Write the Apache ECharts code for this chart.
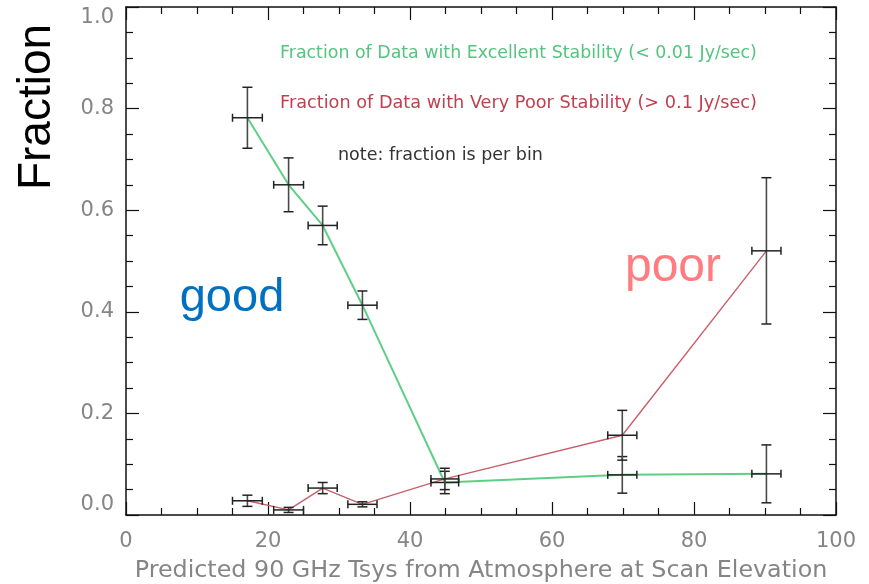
<!DOCTYPE html>
<html>
<head>
<meta charset="utf-8">
<script src="https://cdn.jsdelivr.net/npm/echarts@6/dist/echarts.min.js"></script>
<style>
  html, body { margin: 0; padding: 0; background: #fff; }
  #chart { width: 869px; height: 584px; }
</style>
</head>
<body>
<div id="chart"></div>
<script>
// Bin centres (predicted 90 GHz Tsys) and half-widths
const tsysBins = [17.1, 22.9, 27.7, 33.3, 44.9, 69.9, 90.2];
const tsysHalfWidth = [2.1, 2.1, 2.05, 2.05, 1.95, 2.05, 2.05];

// Fraction of data with excellent stability (< 0.01 Jy/sec)
const excellentFrac = [0.782, 0.650, 0.570, 0.413, 0.064, 0.079, 0.081];
const excellentErr = [0.060, 0.053, 0.038, 0.028, 0.022, 0.036, 0.057];

// Fraction of data with very poor stability (> 0.1 Jy/sec)
const poorFrac = [0.028, 0.010, 0.053, 0.021, 0.071, 0.157, 0.520];
const poorErr = [0.011, 0.005, 0.011, 0.005, 0.021, 0.049, 0.144];

const xTicks = { min: 0, max: 100, interval: 20 };
const yTicks = { min: 0, max: 1.0, interval: 0.2 };

const GREEN = '#5fcf85';
const RED = '#c8606c';

function pairs(ys) {
  return tsysBins.map((x, i) => [x, ys[i]]);
}
function errRows(ys, errs) {
  return tsysBins.map((x, i) => [x, ys[i], tsysHalfWidth[i], errs[i]]);
}

// Cross-shaped error bars: vertical (y error) and horizontal (bin width), both capped
function renderErr(params, api) {
  const x = api.value(0), y = api.value(1), dx = api.value(2), dy = api.value(3);
  const c = api.coord([x, y]);
  const top = api.coord([x, y + dy]);
  const bot = api.coord([x, Math.max(y - dy, 0)]);
  const lft = api.coord([x - dx, y]);
  const rgt = api.coord([x + dx, y]);
  const cap = 5, hcap = 4;
  const vs = { stroke: '#4a4a4a', lineWidth: 1.6 };
  const hs = { stroke: '#222', lineWidth: 1.5 };
  return {
    type: 'group',
    children: [
      { type: 'line', shape: { x1: c[0], y1: top[1], x2: c[0], y2: bot[1] }, style: vs },
      { type: 'line', shape: { x1: c[0] - cap, y1: top[1], x2: c[0] + cap, y2: top[1] }, style: hs },
      { type: 'line', shape: { x1: c[0] - cap, y1: bot[1], x2: c[0] + cap, y2: bot[1] }, style: hs },
      { type: 'line', shape: { x1: lft[0], y1: c[1], x2: rgt[0], y2: c[1] }, style: hs },
      { type: 'line', shape: { x1: lft[0], y1: c[1] - hcap, x2: lft[0], y2: c[1] + hcap }, style: hs },
      { type: 'line', shape: { x1: rgt[0], y1: c[1] - hcap, x2: rgt[0], y2: c[1] + hcap }, style: hs }
    ]
  };
}

const labelFont = { color: '#858585', fontFamily: 'DejaVu Sans', fontSize: 21 };
const frameLine = { show: true, onZero: false, lineStyle: { color: '#111', width: 1.5 } };
const tickIn = { show: true, inside: true, length: 13, lineStyle: { color: '#111', width: 1.2 } };
const minorIn = { show: true, splitNumber: 4, length: 7, lineStyle: { color: '#111', width: 1.2 } };

const chart = echarts.init(document.getElementById('chart'), null, { renderer: 'canvas' });
chart.setOption({
  animation: false,
  backgroundColor: '#fff',
  grid: { left: 126, right: 33, top: 7, bottom: 69, containLabel: false, outerBoundsMode: 'none' },
  xAxis: [
    {
      type: 'value', min: xTicks.min, max: xTicks.max, interval: xTicks.interval,
      position: 'bottom',
      axisLine: frameLine, axisTick: tickIn, minorTick: minorIn,
      splitLine: { show: false },
      axisLabel: Object.assign({ margin: 16 }, labelFont),
      name: 'Predicted 90 GHz Tsys from Atmosphere at Scan Elevation',
      nameLocation: 'middle', nameGap: 44,
      nameTextStyle: { color: '#858585', fontFamily: 'DejaVu Sans', fontSize: 23.8 }
    },
    {
      type: 'value', min: xTicks.min, max: xTicks.max, interval: xTicks.interval,
      position: 'top',
      axisLine: frameLine, axisTick: tickIn, minorTick: minorIn,
      splitLine: { show: false }, axisLabel: { show: false }
    }
  ],
  yAxis: [
    {
      type: 'value', min: yTicks.min, max: yTicks.max, interval: yTicks.interval,
      position: 'left',
      axisLine: frameLine, axisTick: tickIn, minorTick: minorIn,
      splitLine: { show: false },
      axisLabel: Object.assign({
        margin: 12, formatter: v => v.toFixed(1),
        verticalAlignMinLabel: 'bottom', verticalAlignMaxLabel: 'top'
      }, labelFont)
    },
    {
      type: 'value', min: yTicks.min, max: yTicks.max, interval: yTicks.interval,
      position: 'right',
      axisLine: frameLine, axisTick: tickIn, minorTick: minorIn,
      splitLine: { show: false }, axisLabel: { show: false }
    }
  ],
  series: [
    {
      name: 'Excellent Stability', type: 'line', data: pairs(excellentFrac),
      symbol: 'none', lineStyle: { color: GREEN, width: 2 }, z: 2
    },
    {
      name: 'Very Poor Stability', type: 'line', data: pairs(poorFrac),
      symbol: 'none', lineStyle: { color: RED, width: 1.4 }, z: 2
    },
    {
      type: 'custom', renderItem: renderErr, data: errRows(excellentFrac, excellentErr),
      encode: { x: 0, y: 1 }, z: 3
    },
    {
      type: 'custom', renderItem: renderErr, data: errRows(poorFrac, poorErr),
      encode: { x: 0, y: 1 }, z: 3
    }
  ],
  graphic: [
    {
      type: 'text', x: 280, y: 53,
      style: { text: 'Fraction of Data with Excellent Stability (< 0.01 Jy/sec)',
        fill: '#55c47f', font: '17.4px "DejaVu Sans"', verticalAlign: 'middle' }
    },
    {
      type: 'text', x: 280, y: 103,
      style: { text: 'Fraction of Data with Very Poor Stability (> 0.1 Jy/sec)',
        fill: '#c0404e', font: '17.7px "DejaVu Sans"', verticalAlign: 'middle' }
    },
    {
      type: 'text', x: 338, y: 155,
      style: { text: 'note: fraction is per bin',
        fill: '#333', font: '17.5px "DejaVu Sans"', verticalAlign: 'middle' }
    },
    {
      type: 'text', x: 37, y: 107, rotation: Math.PI / 2,
      style: { text: 'Fraction', fill: '#000', font: '46px "Liberation Sans"',
        align: 'center', verticalAlign: 'middle' }
    },
    {
      type: 'text', x: 232, y: 298,
      style: { text: 'good', fill: '#0070c0', font: '47px "Liberation Sans"',
        align: 'center', verticalAlign: 'middle' }
    },
    {
      type: 'text', x: 673, y: 268,
      style: { text: 'poor', fill: '#ff7c80', font: '48px "Liberation Sans"',
        align: 'center', verticalAlign: 'middle' }
    }
  ]
});
</script>
</body>
</html>
